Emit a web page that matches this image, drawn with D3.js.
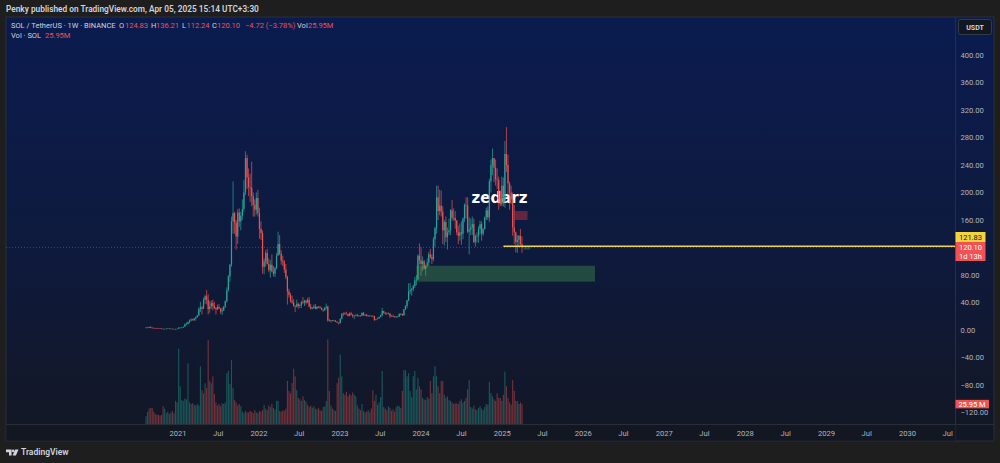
<!DOCTYPE html>
<html>
<head>
<meta charset="utf-8">
<script src="https://cdn.jsdelivr.net/npm/d3@7"></script>
<style>
  body { margin: 0; background: #1e1e1e; }
  svg { display: block; font-family: Roboto, "Liberation Sans", sans-serif; }
</style>
</head>
<body>
<div id="chart"></div>
<script>
// SOL / TetherUS weekly candles (Binance), first week starts 2020-08-10
var firstWeek = new Date(2020, 7, 10);
var firstOpen = 2.85;

var closes = [
  // 2020
  3.55, 3.20, 4.50, 3.25, 3.10, 2.90, 2.90, 2.60, 2.50, 2.20, 1.75, 1.45, 1.70, 1.95, 2.30, 1.85, 1.85, 1.55, 1.60, 1.40, 1.80,
  // 2021
  3.3, 3.4, 3.5, 4.8, 8.2, 8.8, 11.5, 13.8, 15.2, 14.6, 17.0, 18.5, 21.0, 30.5, 33.0, 31.0, 44.0, 49.0, 44.0, 30.5,
  34.0, 39.0, 35.0, 32.0, 30.0, 33.5, 31.5, 27.0, 28.5, 34.0, 42.0, 58.0, 78.0, 95.0, 158, 170, 156, 136, 171, 158,
  166, 176, 200, 250, 222, 208, 207, 195, 182, 175, 192, 170,
  // 2022
  147, 141, 92, 100, 112, 96, 87, 95, 85, 82, 90, 108, 125, 111, 101, 99, 88, 77, 56, 51,
  42, 40, 35, 34, 38, 35, 36, 41, 40, 42.5, 40, 44, 34, 31, 32, 34, 31, 33.5, 33, 32,
  29.5, 28.5, 32.5, 34, 14, 13.5, 13.8, 13.4, 13.6, 12.0, 10.5, 9.9,
  // 2023
  16.5, 23.5, 24.0, 23.8, 23.0, 20.5, 24.0, 22.0, 20.5, 20.8, 21.5, 20.5, 20.8, 20.6, 25.0, 22.0, 22.0, 20.5, 20.8, 20.6,
  20.5, 20.0, 14.8, 15.9, 16.8, 19.0, 21.5, 27.5, 25.0, 24.0, 23.5, 24.0, 20.5, 20.0, 19.6, 18.8, 19.5, 19.5, 23.5, 23.5,
  21.5, 30.0, 35.0, 43.0, 56.0, 58.0, 59.5, 64.0, 72.0, 73.5, 108.0, 101.5,
  // 2024
  96, 100, 89, 94, 98, 110, 106, 103, 132, 148, 193, 173, 181, 172, 145, 157, 135, 142, 145, 174,
  163, 163, 159, 142, 137, 142, 140, 162, 182, 181, 143, 146, 149, 154, 128, 137, 137, 147, 154, 140,
  147, 164, 174, 164, 216, 240, 250, 236, 219, 218, 190, 183, 210,
  // 2025
  186, 256, 240, 213, 200, 190, 149, 142, 128, 131, 137, 124.83, 120.10
];

var highs = [
  3.95, 4.00, 4.80, 4.95, 3.60, 3.40, 3.00, 3.10, 2.70, 2.60, 2.30, 1.85, 1.75, 2.00, 2.50, 2.55, 2.00, 1.90, 1.80, 1.65, 1.85,
  4.0, 4.0, 3.8, 5.0, 9.5, 11.0, 12.5, 15.5, 17.0, 16.5, 17.5, 19.8, 21.5, 33.0, 41.0, 35.0, 47.0, 51.0, 58.0, 52.0,
  42.0, 43.0, 44.0, 41.0, 33.0, 37.0, 37.5, 32.0, 32.5, 35.0, 43.0, 62.0, 80.0, 96.0, 165, 216, 172, 160, 176, 177,
  172, 190, 218, 260, 255, 235, 227, 245, 200, 190, 200, 204,
  178, 158, 145, 104, 116, 118, 104, 102, 110, 93, 92, 112, 143, 138, 116, 108, 102, 96, 79, 60,
  54, 50, 45, 36, 44, 40, 38, 42, 48, 44, 44, 47, 48, 38, 33.5, 37, 38, 35, 35, 35,
  33, 30, 33, 38.5, 35, 16, 14.5, 14.5, 14.8, 14.3, 12.3, 11.0,
  17.0, 24.5, 25.5, 26.0, 26.5, 24.0, 25.5, 26.5, 23.5, 21.0, 23.0, 23.5, 21.5, 21.5, 25.5, 26.0, 23.0, 23.5, 21.5, 21.5,
  21.0, 21.5, 20.7, 16.0, 18.0, 19.5, 22.5, 32.0, 28.0, 26.0, 25.5, 25.5, 24.5, 21.5, 22.5, 20.5, 20.0, 20.5, 24.0, 24.5,
  23.5, 30.5, 36.0, 44.0, 68.0, 68.0, 61.0, 66.0, 77.0, 80.0, 110.0, 126.0,
  120, 107, 102, 95, 104, 114, 118, 110, 135, 150, 210, 210, 204, 203, 180, 160, 165, 149, 162, 176,
  189, 177, 173, 160, 152, 155, 158, 164, 184, 193, 193, 164, 162, 165, 162, 139, 142, 151, 159, 158,
  148, 165, 178, 180, 220, 248, 264, 250, 248, 235, 223, 203, 223,
  222, 275, 295, 255, 216, 210, 200, 182, 143, 138, 138, 147, 136.21
];

var lows = [
  2.60, 3.00, 3.10, 2.90, 2.70, 2.75, 2.20, 2.50, 2.30, 2.10, 1.60, 1.30, 1.35, 1.60, 1.90, 1.65, 1.70, 1.50, 1.50, 1.30, 1.40,
  1.8, 2.9, 2.8, 3.4, 4.6, 7.2, 8.3, 9.5, 12.5, 13.5, 13.0, 13.5, 17.5, 20.5, 26.0, 22.5, 30.5, 38.0, 37.0, 22.5,
  25.0, 31.0, 28.5, 30.5, 22.5, 29.0, 30.5, 23.5, 22.0, 27.5, 32.0, 40.0, 56.0, 70.0, 92, 140, 140, 117, 125, 150,
  145, 160, 172, 196, 205, 195, 186, 180, 165, 165, 168, 165,
  133, 131, 82, 81, 92, 95, 84, 76, 84, 78, 77, 88, 108, 109, 95, 93, 83, 74, 37, 47,
  40, 38, 34, 26, 33, 31, 32, 32, 38, 35, 37, 39, 33, 30, 30, 31, 30, 30, 32, 31,
  29, 26.5, 28, 30, 12, 12.5, 11, 12.8, 12.9, 11.6, 10.5, 8.0,
  9.6, 15.5, 20.5, 22.0, 22.5, 19.5, 20.0, 21.5, 18.0, 15.8, 20.0, 19.5, 19.5, 19.5, 20.5, 20.5, 20.5, 19.5, 19.5, 19.7,
  19.6, 19.5, 13.3, 14.0, 15.6, 16.5, 18.5, 19.5, 24.0, 22.5, 22.0, 23.0, 17.5, 19.5, 19.0, 18.0, 17.5, 18.8, 19.2, 21.5,
  20.5, 21.0, 29.0, 31.5, 42.0, 52.0, 50.0, 56.5, 61.0, 65.0, 73.0, 95.0,
  79, 86, 88, 79, 91, 93, 104, 96, 100, 121, 140, 160, 167, 165, 125, 123, 128, 117, 138, 138,
  159, 159, 147, 138, 125, 130, 124, 132, 157, 162, 141, 110, 138, 138, 126, 121, 127, 127, 139, 130,
  137, 146, 160, 160, 157, 200, 225, 215, 210, 205, 175, 180, 180,
  180, 178, 230, 196, 175, 183, 137, 125, 113, 112, 120, 123, 112.24
];

// weekly volume, millions of SOL
var volumes = [
  10, 16, 20, 21, 21, 16, 13, 12, 12, 11, 12, 23, 20, 14, 16, 13, 15, 17, 14, 30, 28,
  98, 49, 31, 30, 33, 32, 79, 28, 26, 27, 25, 24, 26, 24, 75, 44, 40, 53, 47, 109,
  56, 53, 62, 39, 28, 24, 26, 23, 27, 26, 28, 66, 69, 52, 83, 47, 31, 28, 24, 26,
  23, 16, 14, 17, 15, 15, 17, 16, 14, 18, 15, 14,
  17, 16, 18, 25, 20, 18, 24, 22, 26, 21, 19, 30, 30, 17, 16, 18, 17, 20, 56, 43,
  40, 53, 72, 62, 44, 34, 32, 30, 36, 31, 29, 25, 22, 24, 21, 23, 20, 19, 21, 18,
  17, 22, 23, 30, 110, 43, 24, 20, 18, 17, 53, 60,
  90, 62, 40, 38, 42, 36, 39, 37, 41, 38, 36, 24, 20, 18, 26, 17, 15, 16, 18, 15,
  20, 44, 30, 38, 25, 28, 35, 69, 22, 20, 18, 23, 21, 17, 19, 16, 22, 24, 23, 21,
  43, 70, 70, 62, 66, 43, 35, 62, 69, 45, 60, 49,
  45, 34, 32, 31, 35, 33, 56, 40, 62, 75, 62, 49, 40, 56, 56, 38, 34, 36, 31, 30,
  28, 26, 27, 27, 26, 30, 32, 28, 30, 34, 45, 57, 22, 20, 24, 19, 18, 21, 23, 20,
  18, 22, 26, 25, 55, 40, 36, 32, 30, 40, 34, 34, 30,
  38, 68, 49, 34, 28, 25, 57, 43, 30, 30, 26, 28, 25.95
];

var priceTicks = [400, 360, 320, 280, 240, 200, 160, 80, 40, 0, -40, -80, -120];
var timeTickDates = ["2021-01-01", "2021-07-01", "2022-01-01", "2022-07-01", "2023-01-01", "2023-07-01",
  "2024-01-01", "2024-07-01", "2025-01-01", "2025-07-01", "2026-01-01", "2026-07-01", "2027-01-01",
  "2027-07-01", "2028-01-01", "2028-07-01", "2029-01-01", "2029-07-01", "2030-01-01", "2030-07-01"];
var timeTickLabels = ["2021", "Jul", "2022", "Jul", "2023", "Jul", "2024", "Jul", "2025", "Jul",
  "2026", "Jul", "2027", "Jul", "2028", "Jul", "2029", "Jul", "2030", "Jul"];

// legend change as shown by the chart
var weekChange = -4.72, weekChangePct = -3.78;

// drawings on the chart
var levelPrice = 121.83, levelStart = "2025-01-06";
var lastPrice = 120.10;
var demandZone = [70.3, 93.5], demandDates = ["2023-12-11", "2026-02-23"];
var supplyZone = [160, 173], supplyDates = ["2025-02-26", "2025-04-25"];

var width = 1000, height = 463;
var plot = {left: 6, right: 955, top: 17, bottom: 424};
var panel = {left: 6, right: 994, top: 17, bottom: 441};

var upColor = "#26a69a", downColor = "#ef5350";
var parseDate = d3.timeParse("%Y-%m-%d");

var candles = closes.map(function(c, i) {
    var open = i === 0 ? firstOpen : closes[i - 1];
    return {
        date: d3.timeWeek.offset(firstWeek, i),
        open: open,
        close: c,
        high: Math.max(highs[i], open, c),
        low: Math.min(lows[i], open, c),
        volume: volumes[i]
    };
});

var x = d3.scaleTime()
    .domain([parseDate("2021-01-01"), parseDate("2030-01-01")])
    .range([178, 907.5]);
var y = d3.scaleLinear().domain([0, 400]).range([330, 55]);
var yVol = d3.scaleLinear().domain([0, 130]).range([plot.bottom, plot.bottom - 100]);

var svg = d3.select("#chart").append("svg")
    .attr("width", width)
    .attr("height", height);

var defs = svg.append("defs");
var grad = defs.append("linearGradient")
    .attr("id", "bg").attr("x1", 0).attr("y1", 0).attr("x2", 0).attr("y2", 1);
grad.append("stop").attr("offset", "0%").attr("stop-color", "#0a1b4f");
grad.append("stop").attr("offset", "55%").attr("stop-color", "#0e1a3d");
grad.append("stop").attr("offset", "100%").attr("stop-color", "#131724");

defs.append("clipPath").attr("id", "plotClip")
  .append("rect")
    .attr("x", plot.left).attr("y", plot.top)
    .attr("width", plot.right - plot.left).attr("height", plot.bottom - plot.top);

svg.append("rect")
    .attr("width", width).attr("height", height)
    .attr("fill", "#1e1e1e");

// header
svg.append("text")
    .attr("x", 6).attr("y", 11.6)
    .attr("fill", "#d1d4dc")
    .style("font-size", "8.3px")
    .style("font-weight", "600")
    .text("Penky published on TradingView.com, Apr 05, 2025 15:14 UTC+3:30");

svg.append("rect")
    .attr("x", panel.left).attr("y", panel.top)
    .attr("width", panel.right - panel.left).attr("height", panel.bottom - panel.top)
    .attr("fill", "url(#bg)")
    .attr("stroke", "#2a2e39")
    .attr("stroke-width", 1);

var g = svg.append("g").attr("clip-path", "url(#plotClip)");

// watermark sits under the candles
g.append("text")
    .attr("x", 499.5).attr("y", 203.3)
    .attr("text-anchor", "middle")
    .attr("fill", "#ffffff")
    .style("font-family", "'DejaVu Sans', sans-serif")
    .style("font-size", "15px")
    .style("font-weight", "bold")
    .text("zedarz");

// last price line
g.append("line")
    .attr("x1", plot.left).attr("x2", plot.right)
    .attr("y1", y(lastPrice)).attr("y2", y(lastPrice))
    .attr("stroke", "#f23645")
    .attr("stroke-opacity", 0.55)
    .attr("stroke-width", 1)
    .attr("stroke-dasharray", "1,2");

// volume
g.selectAll(".vol")
    .data(candles)
  .enter().append("rect")
    .attr("class", "vol")
    .attr("x", function(d) { return x(d.date) - 0.55; })
    .attr("y", function(d) { return yVol(d.volume); })
    .attr("width", 1.1)
    .attr("height", function(d) { return plot.bottom - yVol(d.volume); })
    .attr("fill", function(d) { return d.close >= d.open ? upColor : downColor; })
    .attr("fill-opacity", 0.45);

// candles
var candle = g.selectAll(".candle")
    .data(candles)
  .enter().append("g")
    .attr("class", "candle")
    .attr("fill", function(d) { return d.close >= d.open ? upColor : downColor; })
    .attr("stroke", function(d) { return d.close >= d.open ? upColor : downColor; });

candle.append("line")
    .attr("x1", function(d) { return x(d.date); })
    .attr("x2", function(d) { return x(d.date); })
    .attr("y1", function(d) { return y(d.high); })
    .attr("y2", function(d) { return y(d.low); })
    .attr("stroke-width", 0.7);

candle.append("rect")
    .attr("x", function(d) { return x(d.date) - 0.6; })
    .attr("y", function(d) { return y(Math.max(d.open, d.close)); })
    .attr("width", 1.2)
    .attr("height", function(d) { return Math.max(0.6, Math.abs(y(d.open) - y(d.close))); })
    .attr("stroke", "none");

// zones
g.append("rect")
    .attr("x", x(parseDate(demandDates[0])))
    .attr("y", y(demandZone[1]))
    .attr("width", x(parseDate(demandDates[1])) - x(parseDate(demandDates[0])))
    .attr("height", y(demandZone[0]) - y(demandZone[1]))
    .attr("fill", "rgba(76,175,80,0.33)");

g.append("rect")
    .attr("x", x(parseDate(supplyDates[0])))
    .attr("y", y(supplyZone[1]))
    .attr("width", x(parseDate(supplyDates[1])) - x(parseDate(supplyDates[0])))
    .attr("height", y(supplyZone[0]) - y(supplyZone[1]))
    .attr("fill", "rgba(242,54,69,0.38)");

g.append("rect")
    .attr("x", x(parseDate("2025-04-07")))
    .attr("y", y(levelPrice))
    .attr("width", x(parseDate("2025-05-07")) - x(parseDate("2025-04-07")))
    .attr("height", y(lastPrice - 3) - y(levelPrice))
    .attr("fill", "rgba(38,166,154,0.35)");

// level line
g.append("line")
    .attr("x1", x(parseDate(levelStart))).attr("x2", plot.right)
    .attr("y1", y(levelPrice)).attr("y2", y(levelPrice))
    .attr("stroke", "#f2d43d")
    .attr("stroke-width", 1.5);

// axes frame
svg.append("line")
    .attr("x1", plot.right + 0.5).attr("x2", plot.right + 0.5)
    .attr("y1", panel.top).attr("y2", panel.bottom)
    .attr("stroke", "#2a2e39");
svg.append("line")
    .attr("x1", panel.left).attr("x2", panel.right)
    .attr("y1", plot.bottom + 0.5).attr("y2", plot.bottom + 0.5)
    .attr("stroke", "#2a2e39");
svg.append("rect")
    .attr("x", panel.left + 0.5).attr("y", plot.bottom + 1)
    .attr("width", plot.right - panel.left).attr("height", panel.bottom - plot.bottom - 1.5)
    .attr("fill", "#131722");

// price axis
svg.selectAll(".ptick")
    .data(priceTicks)
  .enter().append("text")
    .attr("class", "ptick")
    .attr("x", 960.5)
    .attr("y", function(d) { return y(d) + 2.7; })
    .attr("fill", "#b2b5be")
    .style("font-size", "7.6px")
    .text(function(d) { return (d < 0 ? "\u2212" + (-d).toFixed(2) : d.toFixed(2)); });

// time axis
svg.selectAll(".ttick")
    .data(timeTickDates)
  .enter().append("text")
    .attr("class", "ttick")
    .attr("x", function(d) { return x(parseDate(d)); })
    .attr("y", 435.5)
    .attr("text-anchor", "middle")
    .attr("fill", "#b2b5be")
    .style("font-size", "7.6px")
    .text(function(d, i) { return timeTickLabels[i]; });

// currency button
svg.append("rect")
    .attr("x", 958.5).attr("y", 19.5).attr("width", 33).attr("height", 15).attr("rx", 2)
    .attr("fill", "#131722").attr("stroke", "#363a45");
svg.append("text")
    .attr("x", 975).attr("y", 29.8)
    .attr("text-anchor", "middle")
    .attr("fill", "#d1d4dc")
    .style("font-size", "7px")
    .style("font-weight", "bold")
    .text("USDT");

// price labels on the scale
svg.append("rect")
    .attr("x", 955.5).attr("y", 232).attr("width", 30).attr("height", 10)
    .attr("fill", "#f2d43d");
svg.append("text")
    .attr("x", 970.5).attr("y", 239.7).attr("text-anchor", "middle")
    .attr("fill", "#131722").style("font-size", "7.5px")
    .text(levelPrice.toFixed(2));

svg.append("rect")
    .attr("x", 955.5).attr("y", 242).attr("width", 30).attr("height", 19)
    .attr("fill", "#f05252");
svg.append("text")
    .attr("x", 970.5).attr("y", 250).attr("text-anchor", "middle")
    .attr("fill", "#ffffff").style("font-size", "7.5px")
    .text(lastPrice.toFixed(2));
svg.append("text")
    .attr("x", 970.5).attr("y", 258.5).attr("text-anchor", "middle")
    .attr("fill", "#ffffff").style("font-size", "7.5px")
    .text("1d 13h");

var lastVol = volumes[volumes.length - 1];
svg.append("rect")
    .attr("x", 955.5).attr("y", yVol(lastVol) - 4.2).attr("width", 33.5).attr("height", 8.5)
    .attr("fill", "#f05252");
svg.append("text")
    .attr("x", 972).attr("y", yVol(lastVol) + 2.6).attr("text-anchor", "middle")
    .attr("fill", "#ffffff").style("font-size", "7.5px")
    .text(lastVol.toFixed(2) + " M");

// legend
var last = candles[candles.length - 1];
var legend = svg.append("g").style("font-size", "7.5px");
function legendText(xPos, yPos, color, str) {
    legend.append("text").attr("x", xPos).attr("y", yPos).attr("fill", color).text(str);
}
legendText(11, 28.4, "#d1d4dc", "SOL / TetherUS \u00b7 1W \u00b7 BINANCE");
legendText(119, 28.4, "#d1d4dc", "O");
legendText(125, 28.4, downColor, last.open.toFixed(2));
legendText(151, 28.4, "#d1d4dc", "H");
legendText(156, 28.4, downColor, last.high.toFixed(2));
legendText(182, 28.4, "#d1d4dc", "L");
legendText(186.5, 28.4, downColor, last.low.toFixed(2));
legendText(212, 28.4, "#d1d4dc", "C");
legendText(217, 28.4, downColor, last.close.toFixed(2));
legendText(245, 28.4, downColor, "\u2212" + Math.abs(weekChange).toFixed(2) + " (\u2212" + Math.abs(weekChangePct).toFixed(2) + "%)");
legendText(297, 28.4, "#d1d4dc", "Vol");
legendText(308, 28.4, downColor, lastVol.toFixed(2) + "M");
legendText(11, 37.7, "#d1d4dc", "Vol \u00b7 SOL");
legendText(45, 37.7, downColor, lastVol.toFixed(2) + "M");

// footer logo
var logo = svg.append("g").attr("fill", "#d1d4dc");
logo.append("path").attr("d", "M6,449.6 h5.6 v5.8 h-2.6 v-3.2 h-3z");
logo.append("circle").attr("cx", 13.2).attr("cy", 450.9).attr("r", 1.3);
logo.append("path").attr("d", "M15.2,449.6 h3.3 l-2.6,5.8 h-3.3z");
svg.append("text")
    .attr("x", 21).attr("y", 455)
    .attr("fill", "#d1d4dc")
    .style("font-size", "8.5px")
    .style("font-weight", "600")
    .text("TradingView");
</script>
</body>
</html>
